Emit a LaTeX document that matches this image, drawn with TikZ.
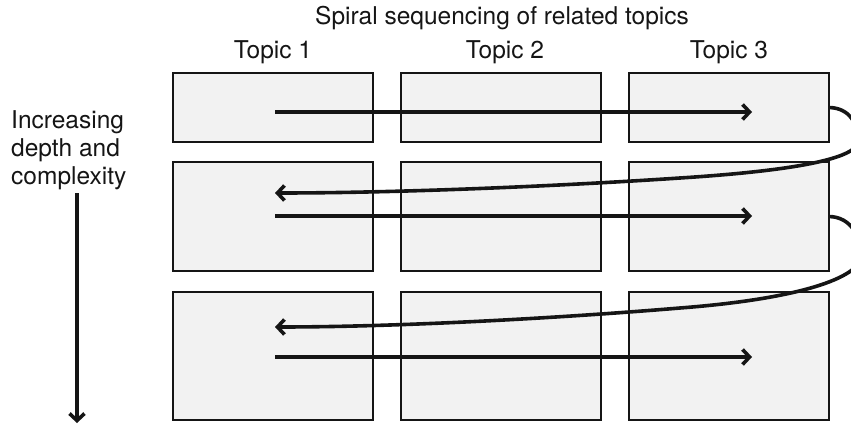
\documentclass[tikz,border=0pt]{standalone}
\usepackage{fontspec}
\setmainfont{TeX Gyre Heros}
\usetikzlibrary{arrows.meta}
\definecolor{boxgray}{HTML}{F2F2F2}
\definecolor{inkc}{HTML}{151515}
\begin{document}
\begin{tikzpicture}[x=1pt,y=-1pt,
  topicbox/.style={draw=inkc, line width=2.7pt, fill=boxgray, minimum width=200pt, inner sep=0pt, outer sep=0pt, anchor=north west},
  flow/.style={draw=inkc, line width=3.6pt, -{Straight Barb[length=7pt,width=15pt]}},
  lbl/.style={font=\fontsize{24.5}{28}\selectfont, text=inkc, inner sep=0pt}]
\useasboundingbox (0,0) rectangle (851,425);
\clip (0,0) rectangle (851,425);
% boxes
\node[topicbox, minimum height=69pt]  (b11) at (173,73)  {};
\node[topicbox, minimum height=69pt]  (b12) at (401,73)  {};
\node[topicbox, minimum height=69pt]  (b13) at (629,73)  {};
\node[topicbox, minimum height=109pt] (b21) at (173,162) {};
\node[topicbox, minimum height=109pt] (b22) at (401,162) {};
\node[topicbox, minimum height=109pt] (b23) at (629,162) {};
\node[topicbox, minimum height=128pt] (b31) at (173,292) {};
\node[topicbox, minimum height=128pt] (b32) at (401,292) {};
\node[topicbox, minimum height=128pt] (b33) at (629,292) {};
% labels
\node[lbl, anchor=base] (title) at (502,25) {Spiral sequencing of related topics};
\node[lbl, anchor=base] (t1) at (273,59) {Topic 1};
\node[lbl, anchor=base] (t2) at (505,59) {Topic 2};
\node[lbl, anchor=base] (t3) at (729,59) {Topic 3};
\node[lbl, anchor=north west, align=left] (side) at (11,110) {Increasing\\depth and\\complexity};
% coordinates
\coordinate (s1) at (275,112); \coordinate (e1) at (752,112);
\coordinate (s2) at (275,216); \coordinate (e2) at (752,216);
\coordinate (s3) at (275,357); \coordinate (e3) at (752,357);
\coordinate (l1) at (275,193); \coordinate (l2) at (275,327);
\coordinate (p1) at (858,141); \coordinate (q1) at (680,178);
\coordinate (p2) at (861,256); \coordinate (q2) at (680,308);
\coordinate (v1) at (77,193);  \coordinate (v2) at (77,423);
% straight arrows
\draw[flow] (s1) -- (e1);
\draw[flow] (s2) -- (e2);
\draw[flow] (s3) -- (e3);
\draw[flow] (v1) -- (v2);
% spiral returns
\draw[flow] (b13.east) .. controls (850,108) and (858,124) .. (p1)
  .. controls (858,157) and (805,170) .. (q1)
  .. controls (560,186) and (400,193) .. (l1);
\draw[flow] (b23.east) .. controls (852,217) and (861,238) .. (p2)
  .. controls (861,275) and (810,298) .. (q2)
  .. controls (560,318) and (400,327) .. (l2);
\end{tikzpicture}
\end{document}
